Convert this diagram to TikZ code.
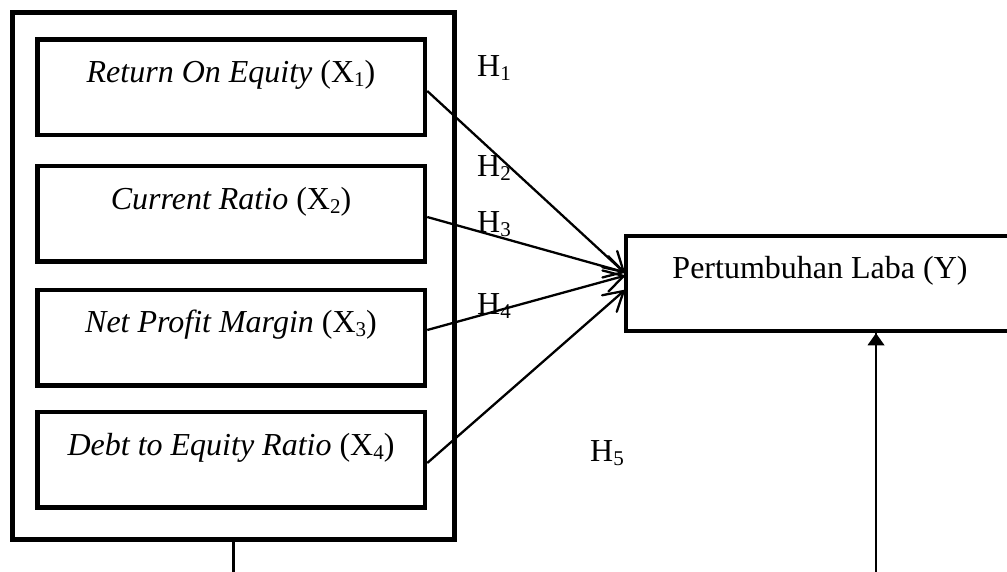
\documentclass[tikz,border=0pt]{standalone}
\usepackage{fontspec}
\setmainfont{Liberation Serif}
\usetikzlibrary{decorations.markings}
% lowered index digit, Word-style subscript
\newcommand{\lowidx}[1]{\raisebox{-4pt}{\fontsize{21}{21}\selectfont #1}}
\begin{document}
\begin{tikzpicture}[x=1pt,y=-1pt,
  font=\fontsize{32}{38}\selectfont,
  varbox/.style={draw, line width=4.5pt, inner sep=0pt, minimum width=387.5pt, minimum height=95.5pt},
  groupbox/.style={draw, line width=4.5pt, inner sep=0pt, minimum width=442pt, minimum height=527pt},
  caption/.style={anchor=base, inner sep=0pt},
  hyp/.style={anchor=base west, inner sep=0pt},
  link/.style={line width=2.3pt, postaction={decorate},
    decoration={markings, mark=at position 1 with {
      \draw[line width=2.3pt, line join=round, line cap=round]
        (-19pt,11pt) -- (0pt,0pt) -- (-19pt,-11pt);}}},
  rise/.style={line width=2.3pt, postaction={decorate},
    decoration={markings, mark=at position 1 with {
      \fill (0pt,0pt) -- (-12pt,8.5pt) -- (-12pt,-8.5pt) -- cycle;}}}]
\useasboundingbox (0,0) rectangle (1007,572);
\clip (0,0) rectangle (1007,572);

% independent variables grouped in one frame
\node[groupbox] (grp) at (233.5,276) {};
\node[varbox] (b1) at (231.25,87.5) {};
\node[varbox] (b2) at (231.25,214) {};
\node[varbox] (b3) at (231.25,337.5) {};
\node[varbox] (b4) at (231.25,459.5) {};
\node[caption] (t1) at (231,83) {\textit{Return On Equity} (X\lowidx{1})};
\node[caption] (t2) at (231,210) {\textit{Current Ratio} (X\lowidx{2})};
\node[caption] (t3) at (231,332) {\textit{Net Profit Margin} (X\lowidx{3})};
\node[caption] (t4) at (231,455) {\textit{Debt to Equity Ratio} (X\lowidx{4})};

% dependent variable
\node[draw, line width=4.5pt, inner sep=0pt, minimum width=388pt, minimum height=95pt] (Y) at (820,283.5) {};
\node[caption] (ty) at (820,279) {Pertumbuhan Laba (Y)};

% partial effects
\draw[link] ([yshift=-3.5pt]b1.east) -- ([yshift=11.5pt]Y.west);
\draw[link] ([yshift=-3pt]b2.east) -- ([yshift=11.5pt]Y.west);
\draw[link] ([yshift=7.5pt]b3.east) -- ([yshift=7.5pt]Y.west);
\draw[link] ([yshift=-3.5pt]b4.east) -- ([yshift=-7.5pt]Y.west);

% simultaneous effect
\coordinate (gbase) at (233.5,575);
\coordinate (ybase) at (876,575);
\draw[line width=2.6pt] (grp.south) -- (grp.south |- gbase);
\draw[rise] (ybase) -- (ybase |- Y.south);

% hypothesis labels
\node[hyp] (h1) at (477,77) {H\lowidx{1}};
\node[hyp] (h2) at (477,177) {H\lowidx{2}};
\node[hyp] (h3) at (477,233) {H\lowidx{3}};
\node[hyp] (h4) at (477,314) {H\lowidx{4}};
\node[hyp] (h5) at (590,461) {H\lowidx{5}};
\end{tikzpicture}
\end{document}
